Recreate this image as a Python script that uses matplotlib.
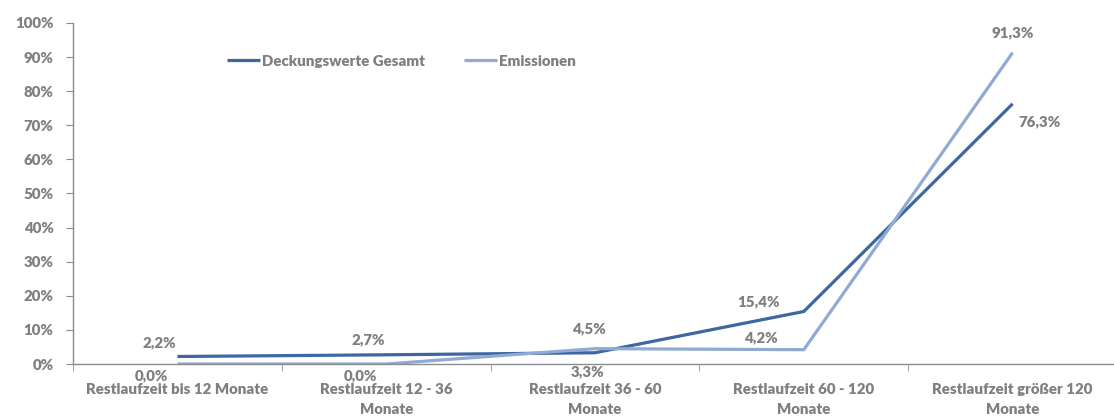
import matplotlib
matplotlib.use("Agg")
import matplotlib.pyplot as plt
from matplotlib.ticker import FixedLocator, PercentFormatter

plt.rcParams['font.family'] = ['Lato', 'DejaVu Sans']

categories = ["Restlaufzeit bis 12 Monate", "Restlaufzeit 12 - 36\nMonate",
              "Restlaufzeit 36 - 60\nMonate", "Restlaufzeit 60 - 120\nMonate",
              "Restlaufzeit größer 120\nMonate"]
deckung = [2.2, 2.7, 3.3, 15.4, 76.3]
emission = [0.0, 0.0, 4.5, 4.2, 91.3]
series_names = ["Deckungswerte Gesamt", "Emissionen"]
yticks = [0, 10, 20, 30, 40, 50, 60, 70, 80, 90, 100]

# label offsets in pixels (dx, dy up)
off_d = [(-18, 14), (-18, 15), (-8, -19), (-45, 10), (27, -18)]
off_e = [(-26, -12), (-26, -12), (-6, 20), (-43, 12), (0, 20)]

dark = "#3E67A0"
light = "#8FAAD3"
gray = "#7F7F7F"
axc = "#8C8C8C"
FS = 10.8
FW = 800

fig = plt.figure(figsize=(11.14, 4.19), dpi=100)
ax = fig.add_axes([73/1114, 55/419, 1044/1114, 341/419])
x = list(range(len(categories)))
l1, = ax.plot(x, deckung, color=dark, lw=2.3, solid_capstyle='butt', solid_joinstyle='miter')
l2, = ax.plot(x, emission, color=light, lw=2.3, solid_capstyle='butt', solid_joinstyle='miter')

ax.set_xlim(-0.5, len(categories) - 0.5)
ax.set_ylim(0, 100)
ax.yaxis.set_major_locator(FixedLocator(yticks))
ax.yaxis.set_major_formatter(PercentFormatter(decimals=0))
ax.set_xticks(x)
ax.set_xticklabels(categories, linespacing=1.6)
ax.xaxis.set_minor_locator(FixedLocator([i - 0.5 for i in range(len(categories) + 1)]))
ax.tick_params(axis='x', which='major', length=0, pad=14, labelsize=FS, labelcolor=gray)
ax.tick_params(axis='x', which='minor', length=5, color=axc, direction='out')
ax.tick_params(axis='y', length=5, color=axc, pad=9, labelsize=FS, labelcolor=gray)
for lab in ax.get_xticklabels() + ax.get_yticklabels():
    lab.set_fontweight(FW)
for s in ['top', 'right']:
    ax.spines[s].set_visible(False)
for s in ['left', 'bottom']:
    ax.spines[s].set_color(axc)
    ax.spines[s].set_linewidth(1.0)

def fmt(v):
    return f"{v:.1f}".replace('.', ',') + "%"

for vals, offs in ((deckung, off_d), (emission, off_e)):
    for xi, v, (dx, dy) in zip(x, vals, offs):
        ax.annotate(fmt(v), (xi, v), xytext=(dx * 0.72, dy * 0.72), textcoords='offset points',
                    ha='center', va='center', fontsize=FS, fontweight=FW, color=gray,
                    annotation_clip=False)

leg = fig.legend([l1, l2], series_names, ncol=2, loc='center left',
                 bbox_to_anchor=(213/1114, 1 - 61/419), frameon=False,
                 handlelength=2.2, handletextpad=0.15, columnspacing=2.6,
                 prop={'size': FS, 'weight': FW})
for t in leg.get_texts():
    t.set_color(gray)

fig.savefig("out.png", dpi=100)
